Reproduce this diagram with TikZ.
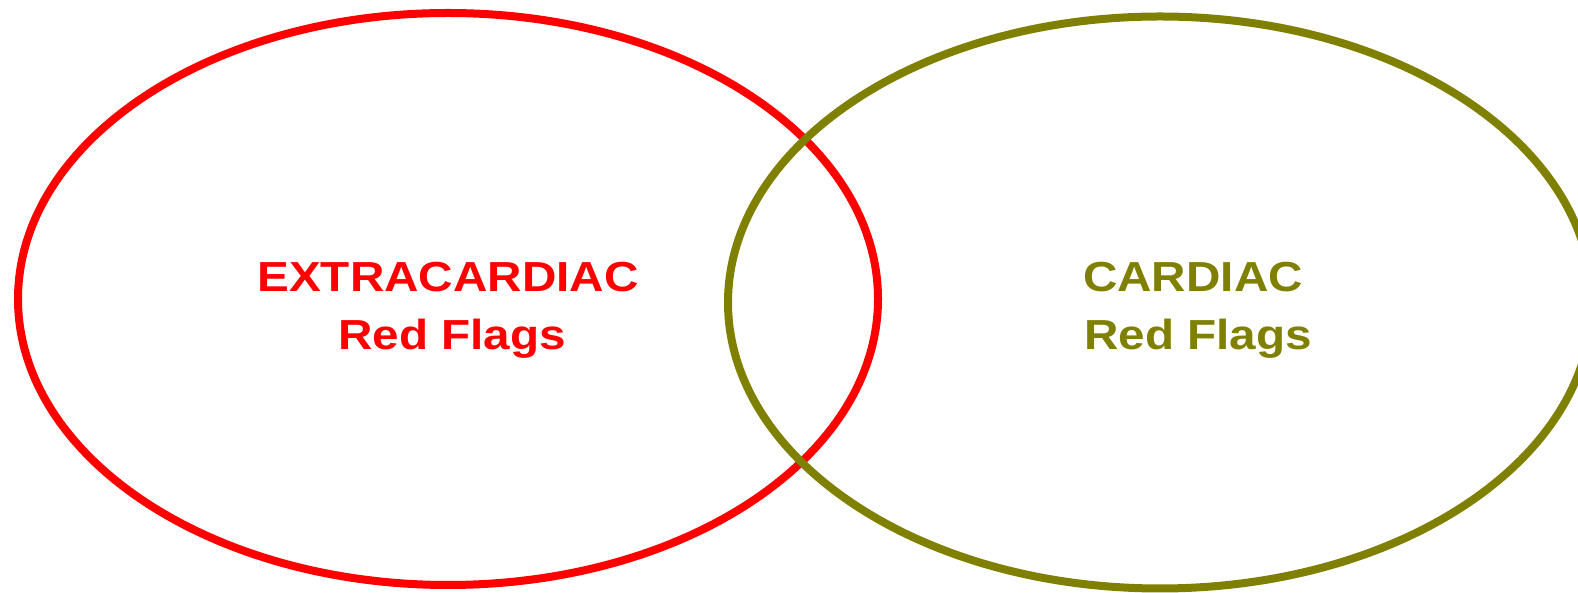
\documentclass[tikz,border=0pt]{standalone}
\usepackage{fontspec}
\setmainfont{Liberation Sans}
\newfontfamily\widesans[FakeStretch=1.135]{Liberation Sans}
\usetikzlibrary{shapes.geometric}
\definecolor{flagred}{HTML}{FF0000}
\definecolor{flagolive}{HTML}{808000}
\tikzset{
  venn/.style={ellipse, draw, line width=8pt, inner sep=0pt, minimum width=#1, minimum height=572pt},
  lbl/.style={anchor=base, inner sep=0pt, font=\widesans\fontsize{42}{50}\selectfont\bfseries}
}
\begin{document}
\begin{tikzpicture}[x=1pt,y=1pt]
\useasboundingbox (0,0) rectangle (1578,593);
\node[venn=860pt, flagred] (extra) at (448,294) {};
\node[venn=864pt, flagolive] (card) at (1160,290.5) {};
\node[lbl, text=flagred] (t1) at (448,301) {EXTRACARDIAC};
\node[lbl, text=flagred] (t2) at (452,243) {Red Flags};
\node[lbl, text=flagolive] (t3) at (1193,301) {CARDIAC};
\node[lbl, text=flagolive] (t4) at (1198,243) {Red Flags};
\end{tikzpicture}
\end{document}
